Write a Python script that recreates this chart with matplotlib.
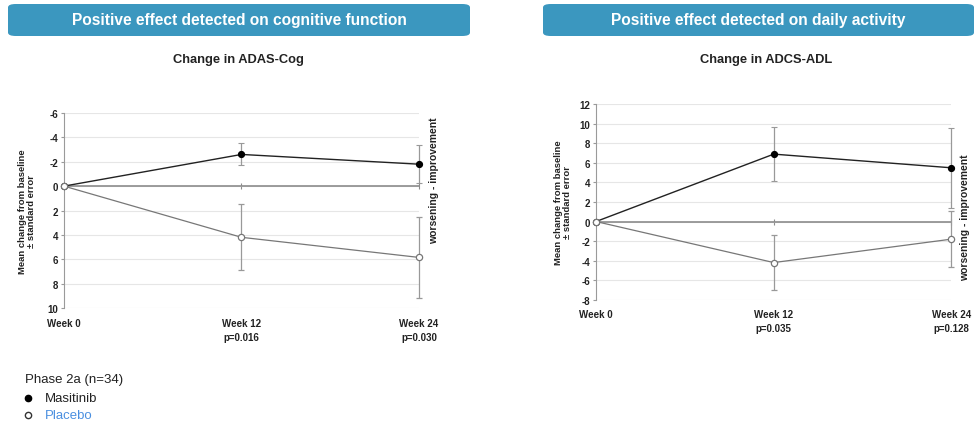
import matplotlib.pyplot as plt
from matplotlib.patches import FancyBboxPatch

plt.rcParams['font.family'] = ['Liberation Sans', 'DejaVu Sans']

weeks = [0, 12, 24]
week_labels = ['Week 0', 'Week 12', 'Week 24']

# ADAS-Cog (lower is better, axis inverted)
cog_pvals = ['', 'p=0.016', 'p=0.030']
cog_masitinib = [0, -2.6, -1.8]
cog_masitinib_se = [0, 0.9, 1.55]
cog_placebo = [0, 4.2, 5.85]
cog_placebo_se = [0, 2.7, 3.3]

# ADCS-ADL
adl_pvals = ['', 'p=0.035', 'p=0.128']
adl_masitinib = [0, 6.9, 5.5]
adl_masitinib_se = [0, 2.75, 4.1]
adl_placebo = [0, -4.2, -1.8]
adl_placebo_se = [0, 2.8, 2.85]

banner_col = '#3b97bf'
text_col = '#222222'

fig = plt.figure(figsize=(9.78, 4.27), dpi=100)


def px(x):
    return x / 978


def py(y):
    return 1 - y / 427


def banner(x0, x1, text):
    y0, y1 = py(37), py(5)
    box = FancyBboxPatch((px(x0), y0), px(x1 - x0), y1 - y0,
                         boxstyle='round,pad=0,rounding_size=0.008',
                         transform=fig.transFigure, facecolor=banner_col,
                         edgecolor='none')
    fig.patches.append(box)
    fig.text(px((x0 + x1) / 2), (y0 + y1) / 2, text, color='white',
             fontsize=11.2, fontweight='bold', ha='center', va='center')


def panel(rect, title, title_x, mas, mas_se, pla, pla_se, pvals, ylim,
          yticks, invert, ylab_x, note_x, note_y):
    ax = fig.add_axes(rect)
    ax.set_xlim(0, 24)
    if invert:
        ax.set_ylim(ylim[1], ylim[0])
    else:
        ax.set_ylim(ylim)
    ax.set_yticks(yticks)
    ax.set_yticklabels([str(t) for t in yticks])
    ax.grid(axis='y', color='#e6e6e6', linewidth=0.8)
    ax.set_axisbelow(True)
    for s in ['top', 'right']:
        ax.spines[s].set_visible(False)
    ax.spines['left'].set_color('#9a9a9a')
    ax.spines['bottom'].set_position(('data', 0))
    ax.spines['bottom'].set_color('#8c8c8c')
    ax.spines['bottom'].set_linewidth(1.2)
    ax.set_xticks(weeks)
    ax.tick_params(axis='x', direction='inout', length=5, color='#8c8c8c',
                   labelbottom=False)
    ax.tick_params(axis='y', length=2, color='#9a9a9a', labelsize=7,
                   labelcolor=text_col, pad=2)
    for lab in ax.get_yticklabels():
        lab.set_fontweight('bold')

    # week labels with p-values under the plot
    sec = ax.secondary_xaxis('bottom')
    sec.set_xticks(weeks)
    labels = [w + ('\n' + p if p else '') for w, p in zip(week_labels, pvals)]
    sec.set_xticklabels(labels, fontsize=7, fontweight='bold', color=text_col,
                        linespacing=1.5)
    sec.tick_params(length=0, pad=7)
    sec.spines['bottom'].set_visible(False)

    ax.errorbar(weeks, mas, yerr=mas_se, color='#222222', linewidth=1.0,
                ecolor='#999999', elinewidth=0.9, capsize=2, capthick=0.8,
                marker='o', markersize=4.2, markerfacecolor='black',
                markeredgecolor='black', zorder=3, clip_on=False)
    ax.errorbar(weeks, pla, yerr=pla_se, color='#777777', linewidth=0.9,
                ecolor='#999999', elinewidth=0.9, capsize=2, capthick=0.8,
                marker='o', markersize=4.5, markerfacecolor='white',
                markeredgecolor='#777777', markeredgewidth=0.9, zorder=4,
                clip_on=False)

    fig.text(title_x, py(60), title, fontsize=9.3, fontweight='bold',
             color=text_col, ha='center', va='center')
    fig.text(ylab_x, rect[1] + rect[3] * 0.5,
             'Mean change from baseline\n\u00b1 standard error',
             rotation=90, fontsize=6.8, fontweight='bold', color=text_col,
             ha='center', va='center', linespacing=0.95)
    fig.text(note_x, note_y, 'worsening - improvement', rotation=90,
             fontsize=7.5, fontweight='bold', color=text_col,
             ha='center', va='center')
    return ax


banner(8, 470, 'Positive effect detected on cognitive function')
banner(543, 974, 'Positive effect detected on daily activity')

ax1 = panel([px(64), py(309), px(355), 195 / 427],
            'Change in ADAS-Cog', px(238), cog_masitinib, cog_masitinib_se,
            cog_placebo, cog_placebo_se, cog_pvals, (-6, 10),
            list(range(-6, 11, 2)), True, px(27), px(434), py(181))

ax2 = panel([px(596), py(300.7), px(355.5), 195.4 / 427],
            'Change in ADCS-ADL', px(766), adl_masitinib, adl_masitinib_se,
            adl_placebo, adl_placebo_se, adl_pvals, (-8, 12),
            list(range(-8, 13, 2)), False, px(563), px(965), py(218))

# legend
fig.text(px(25), py(380), 'Phase 2a (n=34)', fontsize=9.5,
         color=text_col, va='center')
fig.text(px(45), py(399), 'Masitinib', fontsize=9.5,
         color=text_col, va='center')
fig.text(px(45), py(416), 'Placebo', fontsize=9.5,
         color='#4a8fe0', va='center')
fig.lines.append(plt.Line2D([px(28)], [py(399)], marker='o',
                            markersize=4.5, color='black',
                            transform=fig.transFigure))
fig.lines.append(plt.Line2D([px(28)], [py(416)], marker='o',
                            markersize=4.5, markerfacecolor='white',
                            markeredgecolor='#333333',
                            transform=fig.transFigure))

fig.savefig('out.png', dpi=100)
